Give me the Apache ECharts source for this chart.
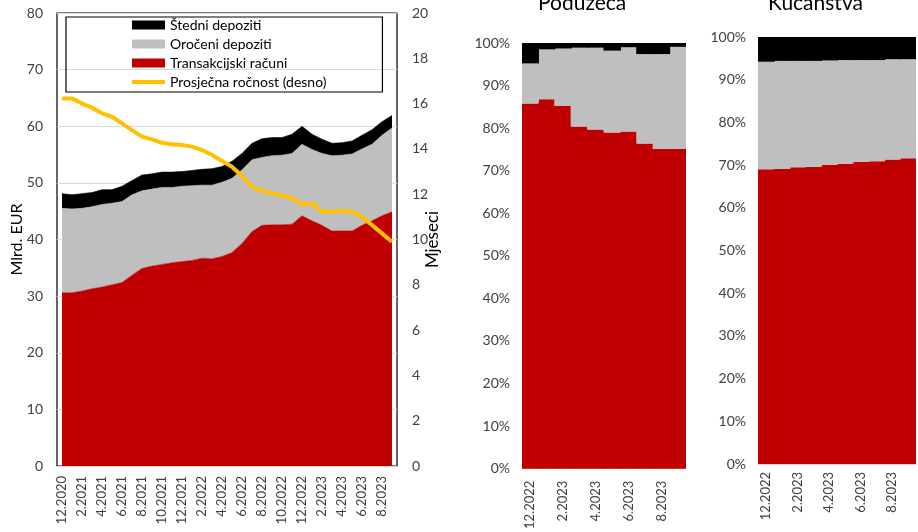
<!DOCTYPE html>
<html>
<head>
<meta charset="utf-8">
<script src="https://cdn.jsdelivr.net/npm/echarts/dist/echarts.min.js"></script>
<style>
html,body{margin:0;padding:0;background:#fff;}
#chart{width:918px;height:532px;}
</style>
</head>
<body>
<div id="chart"></div>
<script>
// ---- Left chart: stock of deposits (mlrd. EUR) and average maturity (months) ----
var months = ['12.2020','1.2021','2.2021','3.2021','4.2021','5.2021','6.2021','7.2021','8.2021','9.2021','10.2021','11.2021',
  '12.2021','1.2022','2.2022','3.2022','4.2022','5.2022','6.2022','7.2022','8.2022','9.2022','10.2022','11.2022',
  '12.2022','1.2023','2.2023','3.2023','4.2023','5.2023','6.2023','7.2023','8.2023','9.2023'];
var transakcijski = [30.6,30.6,30.9,31.3,31.6,32.0,32.4,33.7,34.9,35.3,35.6,35.9,36.1,36.3,36.7,36.6,37.0,37.7,39.3,41.4,42.5,42.6,42.6,42.7,44.2,43.3,42.5,41.5,41.5,41.5,42.5,43.3,44.2,44.9];
var oroceni = [14.9,14.8,14.6,14.5,14.6,14.4,14.3,14.2,13.7,13.6,13.6,13.3,13.3,13.2,12.9,13.0,13.1,13.1,13.0,12.7,12.0,12.2,12.3,12.5,12.6,12.6,12.7,13.3,13.4,13.6,13.5,13.5,14.2,14.8];
var stedni = [2.6,2.5,2.6,2.5,2.6,2.4,2.7,2.5,2.8,2.7,2.7,2.7,2.6,2.7,2.8,2.9,2.8,3.0,2.9,2.9,3.3,3.2,3.1,3.4,3.2,2.7,2.5,2.2,2.2,2.3,2.4,2.6,2.4,2.2];
var rocnost = [16.23,16.23,16.0,15.82,15.57,15.42,15.13,14.83,14.54,14.42,14.27,14.2,14.17,14.1,13.95,13.73,13.47,13.21,12.8,12.33,12.14,12.04,11.95,11.82,11.55,11.6,11.23,11.23,11.27,11.23,11.0,10.64,10.27,9.9];

// ---- Middle & right charts: structure (%) ----
var months2 = ['12.2022','1.2023','2.2023','3.2023','4.2023','5.2023','6.2023','7.2023','8.2023','9.2023'];
var podRed   = [85.8,86.8,85.2,80.4,79.7,79.0,79.2,76.4,75.1,75.1];
var podGray  = [9.4,11.7,13.5,18.5,19.2,19.2,19.8,21.0,22.3,24.0];
var podBlack = [4.8,1.5,1.3,1.1,1.1,1.8,1.0,2.6,2.6,0.9];
var kucRed   = [69.0,69.1,69.5,69.6,70.1,70.3,70.8,70.9,71.3,71.6];
var kucGray  = [25.2,25.3,24.9,24.8,24.4,24.3,23.8,23.7,23.5,23.2];
var kucBlack = [5.8,5.6,5.6,5.6,5.5,5.4,5.4,5.4,5.2,5.2];

var titles = ['Poduzeća','Kućanstva'];
var names = ['Štedni depoziti','Oročeni depoziti','Transakcijski računi','Prosječna ročnost (desno)'];

var RED='#C00000', GRAY='#BFBFBF', BLACK='#000000', GOLD='#FFC000';
var FONT='Lato';
var lblColor='#404040';

function areaSeries(name, data, color){
  return {type:'line', name:name, xAxisIndex:0, yAxisIndex:0, stack:'L', data:data,
    symbol:'none', lineStyle:{width:0.6, color:color}, itemStyle:{color:color},
    areaStyle:{color:color, opacity:1}};
}
function barSeries(name, data, color, idx, stack){
  return {type:'bar', name:name, xAxisIndex:idx, yAxisIndex:idx+1, stack:stack, data:data,
    barWidth:17.5, barCategoryGap:'0%',
    itemStyle:{color:color, borderWidth:0}};
}
function catAxis(idx, data, margin){
  return {type:'category', gridIndex:idx, data:data, boundaryGap:true,
    axisLine:{lineStyle:{color:'#D9D9D9', width:1}},
    axisTick:{interval:0, length:5, lineStyle:{color:'#D9D9D9'}},
    splitLine:{show:false}, splitArea:{show:false},
    axisLabel:{interval:1, rotate:90, margin:margin, fontSize:13, fontFamily:FONT, color:lblColor}};
}
function pctAxis(idx){
  return {type:'value', gridIndex:idx, min:0, max:100, interval:10,
    axisLine:{show:false}, axisTick:{show:false}, splitLine:{show:false},
    axisLabel:{formatter:'{value}%', margin:12, fontSize:14, fontFamily:FONT, color:lblColor}};
}

var chart = echarts.init(document.getElementById('chart'), null, {renderer:'canvas'});
chart.setOption({
  animation:false,
  textStyle:{fontFamily:FONT},
  title:[
    {text:titles[0], left:538, top:-7, padding:0, textStyle:{fontSize:21, fontWeight:'normal', color:'#000', fontFamily:FONT}},
    {text:titles[1], left:768, top:-7, padding:0, textStyle:{fontSize:21, fontWeight:'normal', color:'#000', fontFamily:FONT}}
  ],
  legend:{
    left:66, top:17, orient:'vertical', padding:[1,56,3,66], itemGap:5,
    itemWidth:33, itemHeight:9, borderColor:'#000', borderWidth:1.2, selectedMode:false,
    textStyle:{fontSize:14, fontFamily:FONT, color:'#000'},
    data:[
      {name:names[0], icon:'rect'},
      {name:names[1], icon:'rect'},
      {name:names[2], icon:'rect'},
      {name:names[3], icon:'path://M0,0L33,0L33,4L0,4Z', itemStyle:{color:GOLD}}
    ]
  },
  grid:[
    {left:57, top:13, width:340, height:453, show:true, borderColor:'#000', borderWidth:1.2, backgroundColor:'transparent'},
    {left:522, top:43, width:164, height:426},
    {left:758, top:37, width:158, height:427}
  ],
  xAxis:[
    catAxis(0, months, 10),
    catAxis(1, months2, 12),
    catAxis(2, months2, 8)
  ],
  yAxis:[
    {type:'value', gridIndex:0, min:0, max:80, interval:10,
      axisLine:{show:false}, axisTick:{show:false},
      splitLine:{lineStyle:{color:'#D9D9D9', width:1}},
      axisLabel:{margin:14, fontSize:14, fontFamily:FONT, color:lblColor},
      name:'Mlrd. EUR', nameLocation:'middle', nameGap:32, nameRotate:90, nameMoveOverlap:false,
      nameTextStyle:{fontSize:16, fontFamily:FONT, color:'#000'}},
    {type:'value', gridIndex:0, position:'right', min:0, max:20, interval:2,
      axisLine:{show:false}, axisTick:{show:false}, splitLine:{show:false},
      axisLabel:{margin:15, fontSize:14, fontFamily:FONT, color:lblColor},
      name:'Mjeseci', nameLocation:'middle', nameGap:27, nameRotate:90, nameMoveOverlap:false,
      nameTextStyle:{fontSize:17, fontFamily:FONT, color:'#000'}},
    pctAxis(1),
    pctAxis(2)
  ],
  series:[
    areaSeries(names[2], transakcijski, RED),
    areaSeries(names[1], oroceni, GRAY),
    areaSeries(names[0], stedni, BLACK),
    {type:'line', name:names[3], xAxisIndex:0, yAxisIndex:1, data:rocnost, symbol:'none', z:5,
      lineStyle:{width:4, color:GOLD}, itemStyle:{color:GOLD}},
    barSeries(names[2], podRed, RED, 1, 'P'),
    barSeries(names[1], podGray, GRAY, 1, 'P'),
    barSeries(names[0], podBlack, BLACK, 1, 'P'),
    barSeries(names[2], kucRed, RED, 2, 'K'),
    barSeries(names[1], kucGray, GRAY, 2, 'K'),
    barSeries(names[0], kucBlack, BLACK, 2, 'K')
  ]
});
</script>
</body>
</html>
